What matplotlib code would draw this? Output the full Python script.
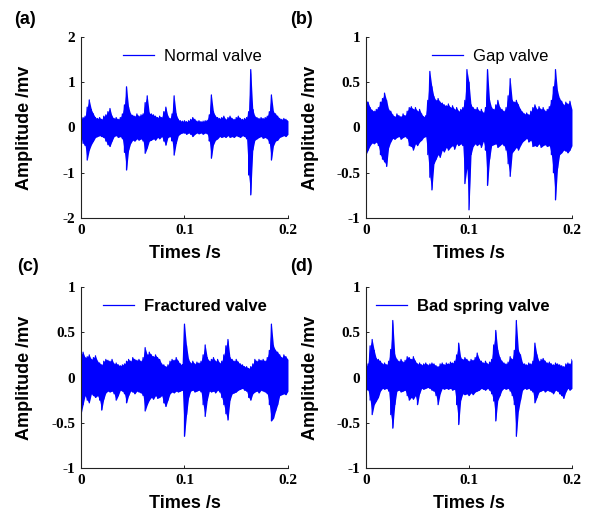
import numpy as np
import matplotlib.pyplot as plt

# time axis of the recordings (s), envelope sampled every 2 ms
t = np.linspace(0, 0.2, 101)

# upper / lower envelope of each signal, in units of 0.01 mv
normal_hi = [20, 22, 25, 45, 61, 40, 30, 22, 20, 22,
             18, 25, 28, 35, 42, 25, 20, 22, 18, 22,
             30, 50, 90, 45, 30, 27, 25, 30, 25, 28,
             30, 55, 70, 32, 30, 28, 25, 22, 25, 22,
             35, 45, 25, 20, 30, 70, 30, 18, 15, 14,
             15, 13, 15, 18, 22, 18, 14, 15, 13, 14,
             15, 16, 28, 72, 35, 25, 22, 20, 22, 25,
             18, 22, 25, 20, 18, 22, 25, 20, 18, 20,
             22, 35, 128, 40, 25, 22, 20, 22, 20, 22,
             25, 35, 72, 35, 30, 25, 20, 18, 20, 18,
             15]
normal_lo = [-22, -35, -40, -72, -50, -38, -30, -22, -20, -18,
             -20, -22, -30, -38, -42, -30, -20, -18, -22, -20,
             -25, -55, -94, -50, -35, -28, -30, -25, -28, -25,
             -30, -57, -45, -30, -28, -25, -28, -22, -25, -20,
             -30, -39, -22, -20, -30, -61, -35, -18, -14, -12,
             -12, -15, -12, -15, -20, -15, -12, -14, -12, -15,
             -12, -14, -30, -68, -38, -28, -25, -20, -22, -20,
             -22, -18, -22, -20, -22, -18, -20, -22, -18, -20,
             -25, -105, -149, -50, -28, -25, -22, -20, -24, -22,
             -25, -35, -72, -40, -30, -28, -22, -20, -18, -20,
             -15]

gap_hi = [30, 28, 22, 19, 18, 20, 22, 28, 32, 38,
          30, 20, 18, 14, 12, 15, 13, 12, 15, 13,
          18, 22, 23, 20, 22, 18, 20, 15, 12, 13,
          30, 62, 45, 34, 30, 32, 28, 27, 25, 24,
          26, 22, 24, 20, 22, 18, 20, 22, 30, 64,
          50, 25, 22, 20, 22, 18, 20, 16, 22, 64,
          30, 22, 20, 25, 30, 22, 20, 18, 22, 35,
          54, 30, 28, 30, 25, 20, 17, 15, 16, 14,
          18, 22, 25, 20, 23, 20, 22, 18, 20, 23,
          30, 45, 64, 40, 32, 29, 25, 28, 26, 29,
          20]
gap_lo = [-30, -25, -20, -17, -18, -16, -20, -30, -35, -38,
          -43, -22, -16, -12, -13, -11, -10, -13, -11, -10,
          -12, -20, -21, -25, -18, -20, -16, -14, -11, -10,
          -30, -55, -69, -40, -35, -30, -33, -25, -27, -22,
          -25, -22, -20, -24, -18, -20, -18, -20, -62, -45,
          -91, -30, -21, -18, -20, -18, -22, -15, -25, -64,
          -35, -20, -19, -18, -22, -20, -18, -20, -25, -40,
          -54, -28, -25, -22, -25, -20, -16, -14, -12, -16,
          -14, -21, -20, -21, -18, -22, -20, -19, -21, -20,
          -30, -50, -80, -45, -30, -28, -25, -26, -28, -25,
          -20]

fractured_hi = [25, 28, 22, 23, 25, 20, 22, 24, 18, 16,
                14, 18, 20, 19, 18, 20, 15, 16, 14, 13,
                14, 15, 18, 20, 18, 22, 20, 19, 20, 18,
                22, 33, 25, 28, 25, 23, 25, 22, 20, 15,
                14, 12, 14, 18, 20, 19, 22, 18, 15, 14,
                59, 35, 20, 16, 18, 15, 17, 16, 18, 25,
                36, 22, 18, 20, 22, 18, 20, 16, 18, 25,
                35, 42, 22, 20, 18, 20, 17, 15, 14, 12,
                12, 10, 12, 15, 20, 18, 20, 19, 20, 18,
                22, 30, 59, 35, 30, 28, 25, 22, 25, 23,
                20]
fractured_lo = [-41, -30, -20, -25, -28, -18, -20, -22, -20, -25,
                -36, -24, -17, -15, -16, -15, -18, -25, -20, -14,
                -15, -18, -28, -20, -15, -16, -18, -15, -16, -17,
                -20, -37, -30, -25, -22, -24, -20, -23, -22, -20,
                -28, -32, -25, -18, -16, -17, -15, -16, -15, -14,
                -65, -41, -22, -15, -14, -16, -15, -14, -16, -30,
                -43, -25, -15, -16, -15, -17, -14, -16, -22, -30,
                -40, -47, -25, -18, -17, -16, -14, -13, -12, -14,
                -15, -22, -25, -18, -16, -15, -17, -14, -15, -16,
                -18, -30, -48, -45, -37, -30, -20, -19, -18, -19,
                -15]

spring_hi = [12, 15, 35, 42, 30, 21, 20, 18, 15, 16,
             14, 18, 31, 63, 25, 20, 18, 20, 17, 19,
             23, 22, 20, 23, 18, 15, 16, 14, 15, 16,
             14, 15, 16, 15, 13, 12, 15, 16, 14, 16,
             15, 17, 16, 18, 25, 38, 22, 20, 22, 20,
             18, 20, 19, 22, 27, 20, 18, 16, 18, 15,
             17, 20, 36, 52, 30, 22, 18, 16, 15, 17,
             23, 20, 30, 63, 30, 25, 16, 15, 14, 16,
             15, 18, 38, 25, 18, 20, 21, 18, 16, 17,
             15, 14, 16, 15, 14, 13, 12, 15, 16, 15,
             20]
spring_lo = [-12, -14, -25, -41, -30, -26, -22, -15, -12, -13,
             -12, -15, -41, -56, -30, -15, -14, -16, -15, -14,
             -20, -25, -22, -24, -20, -30, -18, -12, -13, -12,
             -11, -12, -14, -15, -20, -30, -18, -12, -13, -12,
             -13, -12, -14, -13, -30, -52, -25, -18, -19, -18,
             -20, -17, -19, -16, -15, -14, -12, -13, -14, -12,
             -14, -18, -26, -48, -25, -20, -14, -12, -13, -12,
             -15, -20, -30, -65, -37, -25, -14, -12, -13, -12,
             -14, -16, -28, -22, -16, -15, -14, -16, -14, -15,
             -16, -18, -14, -15, -18, -20, -23, -16, -12, -14,
             -12]

panels = [
    ('(a)', 'Normal valve', normal_hi, normal_lo, [-2, -1, 0, 1, 2], ['-2', '-1', '0', '1', '2'], 'normal'),
    ('(b)', 'Gap valve', gap_hi, gap_lo, [-1, -0.5, 0, 0.5, 1], ['-1', '-0.5', '0', '0.5', '1'], 'normal'),
    ('(c)', 'Fractured valve', fractured_hi, fractured_lo, [-1, -0.5, 0, 0.5, 1], ['-1', '-0.5', '0', '0.5', '1'], 'bold'),
    ('(d)', 'Bad spring valve', spring_hi, spring_lo, [-1, -0.5, 0, 0.5, 1], ['-1', '-0.5', '0', '0.5', '1'], 'bold'),
]

# axes boxes in figure fraction, legend anchors in axes fraction
boxes = [[0.1359, 0.5759, 0.3473, 0.3521], [0.6141, 0.5759, 0.3456, 0.3521],
         [0.1359, 0.0895, 0.3473, 0.3521], [0.6141, 0.0895, 0.3456, 0.3521]]
leg_x = [0.203, 0.320, 0.106, 0.049]
tag_pos = [(0.024, 0.962), (0.487, 0.962), (0.029, 0.482), (0.487, 0.482)]

blue = (0, 0, 1)
fig = plt.figure(figsize=(5.96, 5.14), dpi=100)

for i, (tag, name, hi, lo, yt, ytl, lw) in enumerate(panels):
    ax = fig.add_axes(boxes[i])
    hi = np.array(hi) / 100
    lo = np.array(lo) / 100
    # solid band between the envelopes, then a trace zig-zagging across it
    ax.fill_between(t, lo, hi, color=blue, lw=0)
    x = np.repeat(t, 2)
    y = np.column_stack([hi, lo]).ravel()
    ax.plot(x, y, color=blue, lw=0.9, label=name)

    ax.set_xlim(0, 0.2)
    ax.set_ylim(yt[0], yt[-1])
    ax.set_xticks([0, 0.1, 0.2])
    ax.set_xticklabels(['0', '0.1', '0.2'])
    ax.set_yticks(yt)
    ax.set_yticklabels(ytl)
    for s in ['top', 'right']:
        ax.spines[s].set_visible(False)
    for s in ['left', 'bottom']:
        ax.spines[s].set_linewidth(0.8)
        ax.spines[s].set_color('#222222')
    ax.tick_params(direction='in', length=2.5, width=0.7, color='#222222')
    ax.tick_params(axis='x', pad=4)
    ax.tick_params(axis='y', pad=4)
    for lab in ax.get_xticklabels() + ax.get_yticklabels():
        lab.set_fontfamily('Liberation Serif')
        lab.set_fontweight('bold')
        lab.set_fontsize(11)

    ax.set_xlabel('Times /s', fontfamily='Liberation Sans', fontweight='bold', fontsize=13)
    ax.set_ylabel('Amplitude /mv', fontfamily='Liberation Sans', fontweight='bold', fontsize=13)
    ax.xaxis.set_label_coords(0.5, -0.15)
    ax.yaxis.set_label_coords(-0.23, 0.5)

    ax.legend(loc='center left', bbox_to_anchor=(leg_x[i], 0.895), frameon=False,
              borderpad=0, borderaxespad=0, handlelength=1.85, handletextpad=0.6,
              prop={'family': 'Liberation Sans', 'size': 12, 'weight': lw})

    fig.text(tag_pos[i][0], tag_pos[i][1], tag, fontfamily='Liberation Sans',
             fontweight='bold', fontsize=13, va='center')

fig.savefig('out.png', dpi=100)
